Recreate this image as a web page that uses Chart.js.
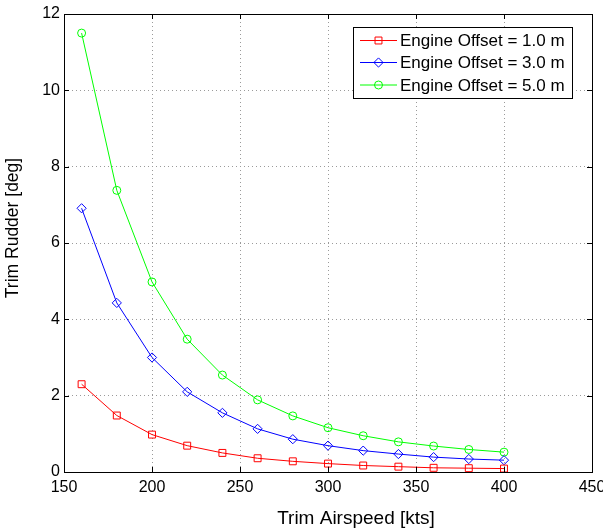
<!DOCTYPE html>
<html>
<head>
<meta charset="utf-8">
<script src="https://cdn.jsdelivr.net/npm/chart.js@4/dist/chart.umd.min.js"></script>
<style>
  html, body { margin: 0; padding: 0; background: #fff; }
  #wrap { width: 603px; height: 532px; }
</style>
</head>
<body>
<div id="wrap"><canvas id="chart" width="603" height="532"></canvas></div>
<script>
// --- data ---
const airspeed = [160, 180, 200, 220, 240, 260, 280, 300, 320, 340, 360, 380, 400];
const offset1 = [2.30, 1.48, 0.98, 0.69, 0.50, 0.36, 0.28, 0.22, 0.17, 0.14, 0.11, 0.10, 0.09];
const offset3 = [6.91, 4.43, 3.00, 2.10, 1.55, 1.13, 0.86, 0.69, 0.56, 0.47, 0.39, 0.34, 0.31];
const offset5 = [11.50, 7.38, 4.98, 3.48, 2.54, 1.89, 1.47, 1.16, 0.95, 0.79, 0.68, 0.59, 0.52];
const seriesLabels = ['Engine Offset = 1.0 m', 'Engine Offset = 3.0 m', 'Engine Offset = 5.0 m'];
const xTicks = [150, 200, 250, 300, 350, 400, 450];
const yTicks = [0, 2, 4, 6, 8, 10, 12];
const xTitle = 'Trim Airspeed [kts]';
const yTitle = 'Trim Rudder [deg]';

const FONT = 'Liberation Sans, Arial, Helvetica, sans-serif';
Chart.defaults.font.family = FONT;
Chart.defaults.color = '#000';

function toPoints(ys) {
    return airspeed.map((x, i) => ({ x: x, y: ys[i] }));
}

function makeSet(label, ys, color, style, radius) {
    return {
        label: label, data: toPoints(ys),
        borderColor: color, backgroundColor: 'transparent',
        borderWidth: 1, tension: 0,
        pointStyle: style, pointRadius: radius, pointBorderWidth: 1,
        pointBorderColor: color, pointBackgroundColor: 'transparent'
    };
}

// box, inward ticks, axis titles and legend, MATLAB style
const matlabFrame = {
    id: 'matlabFrame',
    afterDatasetsDraw(chart) {
        const ctx = chart.ctx, a = chart.chartArea;
        const xs = chart.scales.x, ys = chart.scales.y;
        ctx.save();
        ctx.strokeStyle = '#000';
        ctx.lineWidth = 1;
        ctx.beginPath();
        const tl = 5;
        xTicks.forEach(v => {
            const px = Math.round(xs.getPixelForValue(v)) + 0.5;
            ctx.moveTo(px, a.bottom); ctx.lineTo(px, a.bottom - tl);
            ctx.moveTo(px, a.top); ctx.lineTo(px, a.top + tl);
        });
        yTicks.forEach(v => {
            const py = Math.round(ys.getPixelForValue(v)) + 0.5;
            ctx.moveTo(a.left, py); ctx.lineTo(a.left + tl, py);
            ctx.moveTo(a.right, py); ctx.lineTo(a.right - tl, py);
        });
        ctx.stroke();
        ctx.strokeRect(Math.round(a.left) + 0.5, Math.round(a.top) + 0.5,
                       Math.round(a.right - a.left), Math.round(a.bottom - a.top));

        // axis titles (both sit a little off centre in the original)
        ctx.fillStyle = '#000';
        ctx.font = '19px ' + FONT;
        ctx.textAlign = 'center';
        ctx.textBaseline = 'middle';
        ctx.fillText(xTitle, 356, 519);
        ctx.save();
        ctx.font = '17.5px ' + FONT;
        ctx.translate(13, 228);
        ctx.rotate(-Math.PI / 2);
        ctx.fillText(yTitle, 0, 0);
        ctx.restore();

        // legend box
        const bx = 353.5, by = 27.5, bw = 219, bh = 71;
        ctx.fillStyle = '#fff';
        ctx.fillRect(bx, by, bw, bh);
        ctx.strokeRect(bx, by, bw, bh);
        const rows = [40.5, 62.5, 85];
        ctx.font = '17px ' + FONT;
        ctx.textAlign = 'left';
        chart.data.datasets.forEach((ds, i) => {
            const y = rows[i];
            ctx.strokeStyle = ds.borderColor;
            ctx.beginPath();
            ctx.moveTo(360, y); ctx.lineTo(397, y);
            ctx.stroke();
            ctx.fillStyle = 'rgba(0,0,0,0)';
            Chart.helpers.drawPoint(ctx, {
                pointStyle: ds.pointStyle, radius: ds.pointRadius, borderWidth: 1, rotation: 0
            }, 378.5, y);
            ctx.fillStyle = '#000';
            ctx.fillText(ds.label, 400, y + 1);
        });
        ctx.restore();
    }
};

const gridOpts = { color: '#9a9a9a', lineWidth: 1, drawTicks: false };
const borderOpts = { display: false, dash: [1, 3] };

new Chart(document.getElementById('chart').getContext('2d'), {
    type: 'line',
    data: {
        datasets: [
            makeSet(seriesLabels[0], offset1, '#ff0000', 'rect', 4.9),
            makeSet(seriesLabels[1], offset3, '#0000ff', 'rectRot', 4.6),
            makeSet(seriesLabels[2], offset5, '#00ff00', 'circle', 4)
        ]
    },
    options: {
        responsive: false,
        animation: false,
        layout: { padding: { left: 0, top: 14, right: 11, bottom: 0 } },
        plugins: { legend: { display: false }, tooltip: { enabled: false } },
        scales: {
            x: {
                type: 'linear', min: 150, max: 450,
                afterBuildTicks: s => { s.ticks = xTicks.map(v => ({ value: v })); },
                afterFit: s => { s.height = 60; s.paddingLeft = 0; s.paddingRight = 0; },
                grid: gridOpts, border: borderOpts,
                ticks: { padding: 6, font: { size: 16 }, maxRotation: 0, color: '#000' }
            },
            y: {
                type: 'linear', min: 0, max: 12,
                afterBuildTicks: s => { s.ticks = yTicks.map(v => ({ value: v })); },
                afterFit: s => { s.width = 64; s.paddingTop = 0; s.paddingBottom = 0; },
                grid: gridOpts, border: borderOpts,
                ticks: { padding: 4, font: { size: 16 }, color: '#000' }
            }
        }
    },
    plugins: [matlabFrame]
});
</script>
</body>
</html>
